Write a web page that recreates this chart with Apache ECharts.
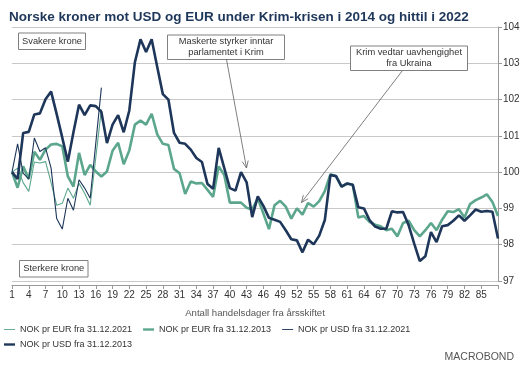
<!DOCTYPE html>
<html><head><meta charset="utf-8">
<script src="https://cdn.jsdelivr.net/npm/echarts@6/dist/echarts.min.js"></script>
<style>html,body{margin:0;padding:0;background:#fff}#c{width:529px;height:372px}</style>
</head><body><div id="c"></div>
<script>
// Day index 1..88 (handelsdager fra årsskiftet)
const usd2013 = [100.0,99.81,101.08,101.11,101.59,101.62,102.01,102.22,101.6,100.95,
  100.29,101.1,101.86,101.57,101.84,101.82,101.66,100.8,101.31,101.57,
  101.1,101.7,103.03,103.66,103.31,103.66,102.9,102.15,102.0,101.08,
  100.81,100.78,100.62,100.39,100.28,99.67,99.54,100.67,100.11,99.56,
  99.49,100.0,99.72,98.76,99.33,99.07,98.74,98.69,98.63,98.40,
  98.15,98.12,97.79,98.14,98.01,98.25,98.68,99.92,99.89,99.6,
  99.69,99.65,99.03,99.0,98.68,98.5,98.44,98.44,98.92,98.89,
  98.9,98.54,98.03,97.55,97.68,98.35,98.07,98.51,98.54,98.66,
  98.81,98.66,98.81,98.97,98.91,98.93,98.91,98.17];
const eur2013 = [100.0,99.57,100.16,99.81,100.56,100.34,100.62,100.76,100.78,100.71,
  99.88,99.6,100.53,99.92,100.2,100.02,99.88,100.02,100.59,100.81,
  100.22,100.6,101.31,101.42,101.31,101.61,101.04,100.78,100.75,100.09,
  99.97,99.4,99.74,99.69,99.7,99.51,99.32,100.16,99.92,99.16,
  99.16,99.16,99.02,98.97,99.28,98.86,98.43,99.09,99.21,99.05,
  98.72,99.0,98.83,99.15,99.05,99.2,99.48,99.94,99.89,99.6,
  99.68,99.65,98.75,98.79,98.63,98.55,98.51,98.4,98.44,98.23,
  98.6,98.66,98.4,98.23,98.4,98.6,98.4,98.69,98.92,98.9,
  98.98,98.75,99.12,99.23,99.3,99.39,99.18,98.79];
const usd2021 = [100.0,100.78,99.97,99.81,100.94,100.57,100.67,100.11,98.72,98.43,
  99.28,98.95,99.79,99.56,99.28,100.8,102.33];
const eur2021 = [100.0,100.11,99.71,99.47,100.28,100.25,100.29,99.71,99.09,99.14,
  99.56,99.28,99.69,99.42,99.09,100.4,101.73];
const seriesNames = ['NOK pr EUR fra 31.12.2021','NOK pr EUR fra 31.12.2013',
  'NOK pr USD fra 31.12.2021','NOK pr USD fra 31.12.2013'];
const titleText = 'Norske kroner mot USD og EUR under Krim-krisen i 2014 og hittil i 2022';
const xAxisName = 'Antall handelsdager fra årsskiftet';
const notes = ['Svakere krone','Sterkere krone',
  'Maskerte styrker inntar\nparlamentet i Krim','Krim vedtar uavhengighet\nfra Ukraina'];

const NAVY = '#1d3659', TEAL = '#5ba68d', FONT = 'Liberation Sans, Arial, sans-serif';
const toPairs = arr => arr.map((v,i)=>[i+1,v]);
const THIN_ICON = 'path://M0,0M12,8M0,3.5H12V4.5H0Z';
const THICK_ICON = 'path://M0,0M12,8M0,2.7H12V5.3H0Z';

function box(x,y,w,h,text){
  return {type:'group', z:100, children:[
    {type:'rect', z:100, shape:{x:x,y:y,width:w,height:h}, style:{fill:'#fff',stroke:'#808080',lineWidth:1}},
    {type:'text', z:101, x:x+w/2, y:y+h/2, style:{text:text, fill:'#333', font:'9.3px '+FONT,
      textAlign:'center', textVerticalAlign:'middle', lineHeight:11}}
  ]};
}
function arrow(x1,y1,x2,y2){
  const dx=x2-x1, dy=y2-y1, L=Math.hypot(dx,dy), ux=dx/L, uy=dy/L;
  const bx=x2-7*ux, by=y2-7*uy, px=-uy*3, py=ux*3;
  return {type:'group', z:100, children:[
    {type:'line', z:100, shape:{x1:x1,y1:y1,x2:x2,y2:y2}, style:{stroke:'#606060',lineWidth:0.8}},
    {type:'polyline', z:100, shape:{points:[[bx+px,by+py],[x2,y2],[bx-px,by-py]]}, style:{stroke:'#606060',lineWidth:0.8,fill:null}}
  ]};
}
const legendBase = {left:4, padding:0, itemWidth:11, itemHeight:8, itemGap:11,
  textStyle:{fontSize:9, color:'#333', fontFamily:FONT}};

const chart = echarts.init(document.getElementById('c'));
chart.setOption({
  animation:false,
  textStyle:{fontFamily:FONT},
  title:{text:titleText, left:4, top:5, textStyle:{fontSize:13.5, fontWeight:'bold', color:NAVY, fontFamily:FONT}},
  grid:{left:12, right:31, top:27, bottom:91},
  legend:[
    Object.assign({}, legendBase, {top:325, data:[
      {name:seriesNames[0], icon:THIN_ICON},
      {name:seriesNames[1], icon:THICK_ICON},
      {name:seriesNames[2], icon:THIN_ICON}]}),
    Object.assign({}, legendBase, {top:340, data:[
      {name:seriesNames[3], icon:THICK_ICON}]})
  ],
  xAxis:{type:'value', min:1, max:88, interval:3, offset:4,
    name:xAxisName, nameLocation:'middle', nameGap:23,
    nameTextStyle:{fontSize:9.6, color:'#555', fontFamily:FONT},
    axisLine:{show:true, lineStyle:{color:'#999'}},
    axisTick:{show:true, length:4, lineStyle:{color:'#999'}},
    splitLine:{show:false},
    axisLabel:{fontSize:10, color:'#333', margin:5, formatter:v=> v>86 ? '' : String(v)}},
  yAxis:{type:'value', position:'right', min:97, max:104, interval:1,
    axisLine:{show:true, lineStyle:{color:'#999'}},
    axisTick:{show:true, length:4, lineStyle:{color:'#999'}},
    splitLine:{show:true, lineStyle:{color:'#c8c8c8'}},
    axisLabel:{fontSize:10, color:'#333', margin:5}},
  series:[
    {name:seriesNames[0], type:'line', data:toPairs(eur2021), symbol:'none', lineStyle:{color:TEAL,width:1.1}, itemStyle:{color:TEAL}},
    {name:seriesNames[1], type:'line', data:toPairs(eur2013), symbol:'none', lineStyle:{color:TEAL,width:2.6}, itemStyle:{color:TEAL}},
    {name:seriesNames[2], type:'line', data:toPairs(usd2021), symbol:'none', lineStyle:{color:NAVY,width:1.1}, itemStyle:{color:NAVY}},
    {name:seriesNames[3], type:'line', data:toPairs(usd2013), symbol:'none', lineStyle:{color:NAVY,width:2.6}, itemStyle:{color:NAVY}}
  ],
  graphic:[
    box(18.5,33,67,16.5,notes[0]),
    box(19.5,260.5,68.5,16.5,notes[1]),
    box(167.5,35,117,24.5,notes[2]),
    box(350.5,46,117,24.5,notes[3]),
    arrow(226.5,59.5,246.5,168),
    arrow(402.5,70.5,301.5,202.5),
    {type:'text', right:15, top:352, style:{text:'MACROBOND', fill:'#555', font:'10.5px '+FONT}}
  ]
});
</script></body></html>
